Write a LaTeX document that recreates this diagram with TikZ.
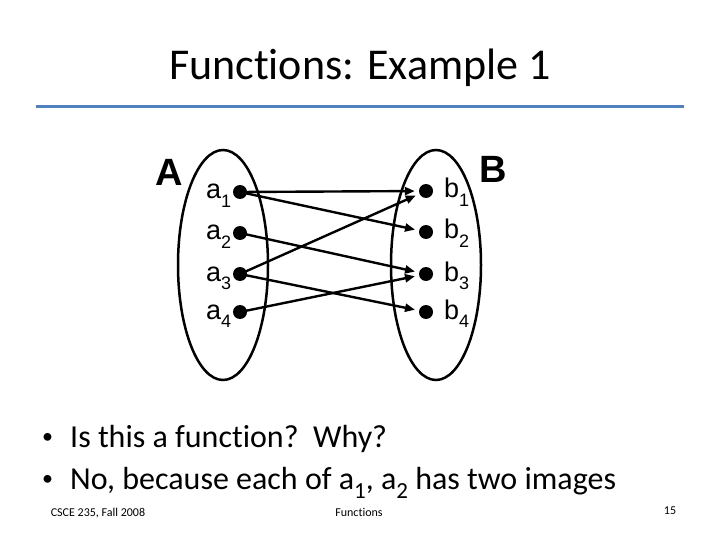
\documentclass[tikz,border=0pt]{standalone}
\usepackage{fontspec}
\setmainfont{Carlito}[Ligatures=NoCommon]
\newfontfamily\arialfont{Liberation Sans}
\usetikzlibrary{shapes.geometric, arrows.meta, positioning}
\definecolor{rulerblue}{RGB}{79,129,189}
\newcommand{\lsub}[1]{\raisebox{-0.3em}{\fontsize{18}{18}\selectfont #1}}
\newcommand{\tsub}[1]{\raisebox{-0.3em}{\fontsize{23}{23}\selectfont #1}}
\newcommand{\bul}{\makebox[28pt][l]{\fontsize{22}{22}\selectfont\raisebox{0.15em}{•}}}
\tikzset{
  setoval/.style={ellipse, draw, line width=2.5pt, minimum width=90pt,
    minimum height=230pt, inner sep=0pt},
  elem/.style={circle, fill=black, inner sep=0pt, minimum size=14pt},
  setname/.style={font=\arialfont\bfseries\fontsize{38}{38}\selectfont, inner sep=0pt},
  elemlbl/.style={anchor=base west, font=\arialfont\fontsize{27}{27}\selectfont,
    inner sep=0pt},
  maparr/.style={-{Triangle[length=10pt,width=8pt]}, line width=2.4pt, shorten >=4pt},
  bulletline/.style={anchor=base west, font=\fontsize{32}{32}\selectfont, inner sep=0pt},
  footer/.style={anchor=base, font=\fontsize{12}{12}\selectfont, inner sep=0pt},
}
\begin{document}
\begin{tikzpicture}[x=1pt, y=-1pt]
\useasboundingbox[fill=white] (0,0) rectangle (720,540);

% title and rule
\node[font=\fontsize{44}{44}\selectfont, inner sep=0pt] (title) at (360,68) {Functions: Example 1};
\draw[rulerblue, line width=3pt] (36,107) -- (684,107);

% the two sets
\node[setoval] (setA) at (223,265) {};
\node[setoval] (setB) at (436,265) {};
\node[setname] (nameA) at (169,172) {A};
\node[setname] (nameB) at (493,169) {B};

% elements
\node[elem] (a1) at (240,192) {};
\node[elem] (a2) at (240,233) {};
\node[elem] (a3) at (240,274) {};
\node[elem] (a4) at (240,312) {};
\node[elem] (b1) at (426,191) {};
\node[elem] (b2) at (426,232) {};
\node[elem] (b3) at (426,274) {};
\node[elem] (b4) at (426,312) {};

\node[elemlbl] (la1) at (206,199) {a\lsub{1}};
\node[elemlbl] (la2) at (206,240) {a\lsub{2}};
\node[elemlbl] (la3) at (206,281) {a\lsub{3}};
\node[elemlbl] (la4) at (206,319) {a\lsub{4}};
\node[elemlbl] (lb1) at (444,198) {b\lsub{1}};
\node[elemlbl] (lb2) at (444,239) {b\lsub{2}};
\node[elemlbl] (lb3) at (444,281) {b\lsub{3}};
\node[elemlbl] (lb4) at (444,319) {b\lsub{4}};

% the mapping
\draw[maparr] (a1.center) -- (b1);
\draw[maparr] (a1.center) -- (b2);
\draw[maparr] (a2.center) -- (b3);
\draw[maparr] (a3.center) -- (b1);
\draw[maparr] (a3.center) -- (b4);
\draw[maparr] (a4.center) -- (b3);

% bullets
\node[bulletline] (q1) at (42,447) {\bul Is this a function?~~Why?};
\node[bulletline] (q2) at (42,489) {\bul No, because each of a\tsub{1}, a\tsub{2} has two images};

% footer
\node[footer] (course) at (98,516) {CSCE 235, Fall 2008};
\node[footer] (topic) at (359,516) {Functions};
\node[footer] (page) at (670,514) {15};
\end{tikzpicture}
\end{document}
